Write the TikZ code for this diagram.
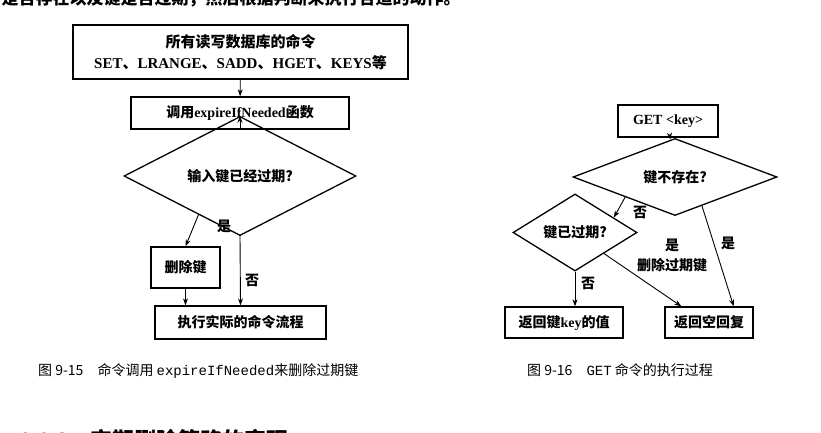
\documentclass[tikz,border=0pt]{standalone}
\usepackage{fontspec}
\setmainfont{Liberation Serif}
\setmonofont{Liberation Mono}
\newfontfamily\cjk{Noto Sans CJK SC}
\newcommand{\cj}[1]{{\cjk #1}}
\usetikzlibrary{positioning,shapes.geometric,arrows.meta}

\begin{document}
\begin{tikzpicture}[x=1pt,y=-1pt,
				box/.style={rectangle, draw=black, line width=1.3pt, inner sep=0pt, font=\bfseries\fontsize{14}{20}\selectfont, align=center},
				test/.style={diamond, draw=black, line width=1.3pt, inner sep=0pt, font=\bfseries\fontsize{14}{16}\selectfont},
				lbl/.style={font=\cjk\bfseries\fontsize{14}{16}\selectfont, inner sep=0pt},
				figcap/.style={font=\fontsize{14}{16}\selectfont, inner sep=0pt, anchor=west}
			]
			\useasboundingbox (0,0) rectangle (821,433);
			\begin{scope}
			\clip (0,0) rectangle (821,433);
			\node[font=\cjk\bfseries\fontsize{17}{19}\selectfont, anchor=west] (topline) at (-2,-2) {是否存在以及键是否过期，然后根据判断来执行合适的动作。};
			\node[font=\cjk\bfseries\fontsize{22}{24}\selectfont, anchor=west] (head) at (16,440) {\fontspec{Liberation Sans}9.6.2\quad\cj{定期删除策略的实现}};
			\end{scope}
			% figure 9-15
			\node[box, font=\bfseries\fontsize{15}{21}\selectfont, minimum width=335pt, minimum height=54pt] (cmds) at (240.5,52) {\cj{所有读写数据库的命令}\\SET\cj{、}LRANGE\cj{、}SADD\cj{、}HGET\cj{、}KEYS\cj{等}};
			\node[box, minimum width=218pt, minimum height=32pt] (call) at (240,113) {\cj{调用}expireIfNeeded\cj{函数}};
			\node[test, minimum width=232pt, minimum height=62pt] (expired) at (240,176) {\cj{输入键已经过期?}};
			\node[box, minimum width=69pt, minimum height=41pt] (del) at (185.5,267.5) {\cj{删除键}};
			\node[box, minimum width=171pt, minimum height=33pt] (run) at (240.5,322.5) {\cj{执行实际的命令流程}};
			\node[lbl] (yes1) at (224,226) {是};
			\node[lbl] (no1) at (252,280) {否};
			\node[figcap] (cap1) at (38,371) {\cj{图 9-15\quad 命令调用 }\texttt{expireIfNeeded}\cj{来删除过期键}};
			% figure 9-16
			\node[box, minimum width=100pt, minimum height=32pt] (get) at (668,121) {GET <key>};
			\node[test, minimum width=204pt, minimum height=38pt] (missing) at (675,177) {\cj{键不存在?}};
			\node[test, minimum width=124pt, minimum height=61pt] (stale) at (575,232.5) {\cj{键已过期?}};
			\node[box, minimum width=118pt, minimum height=31pt] (value) at (564,322.5) {\cj{返回键}key\cj{的值}};
			\node[box, minimum width=88pt, minimum height=31pt] (nil) at (709,322.5) {\cj{返回空回复}};
			\node[lbl] (no2) at (640,212) {否};
			\node[lbl] (no3) at (588,283) {否};
			\node[lbl] (yes2) at (672,245) {是};
			\node[lbl] (drop) at (672,265) {删除过期键};
			\node[lbl] (yes3) at (728,243) {是};
			\node[figcap] (cap2) at (527,370) {\cj{图 9-16\quad }{\ttfamily GET}\cj{ 命令的执行过程}};
			\begin{scope}[line width=0.9pt, -{Stealth[length=7pt,width=5pt]}]
			\draw (cmds) -- (call);
			\draw (call) -- (expired);
			\draw (expired.223) -- (del.north);
			\draw (expired.south) -- (run.north);
			\draw (del.south) -- (del.south |- run.north);
			\draw (get) -- (missing);
			\draw (missing.202) -- (stale.21);
			\draw (stale.south) -- (stale.south |- value.north);
			\draw (stale.-36) -- ([xshift=17pt]nil.north west);
			\draw (missing.-47) -- ([xshift=-20pt]nil.north east);
			\end{scope}
\end{tikzpicture}
\end{document}
